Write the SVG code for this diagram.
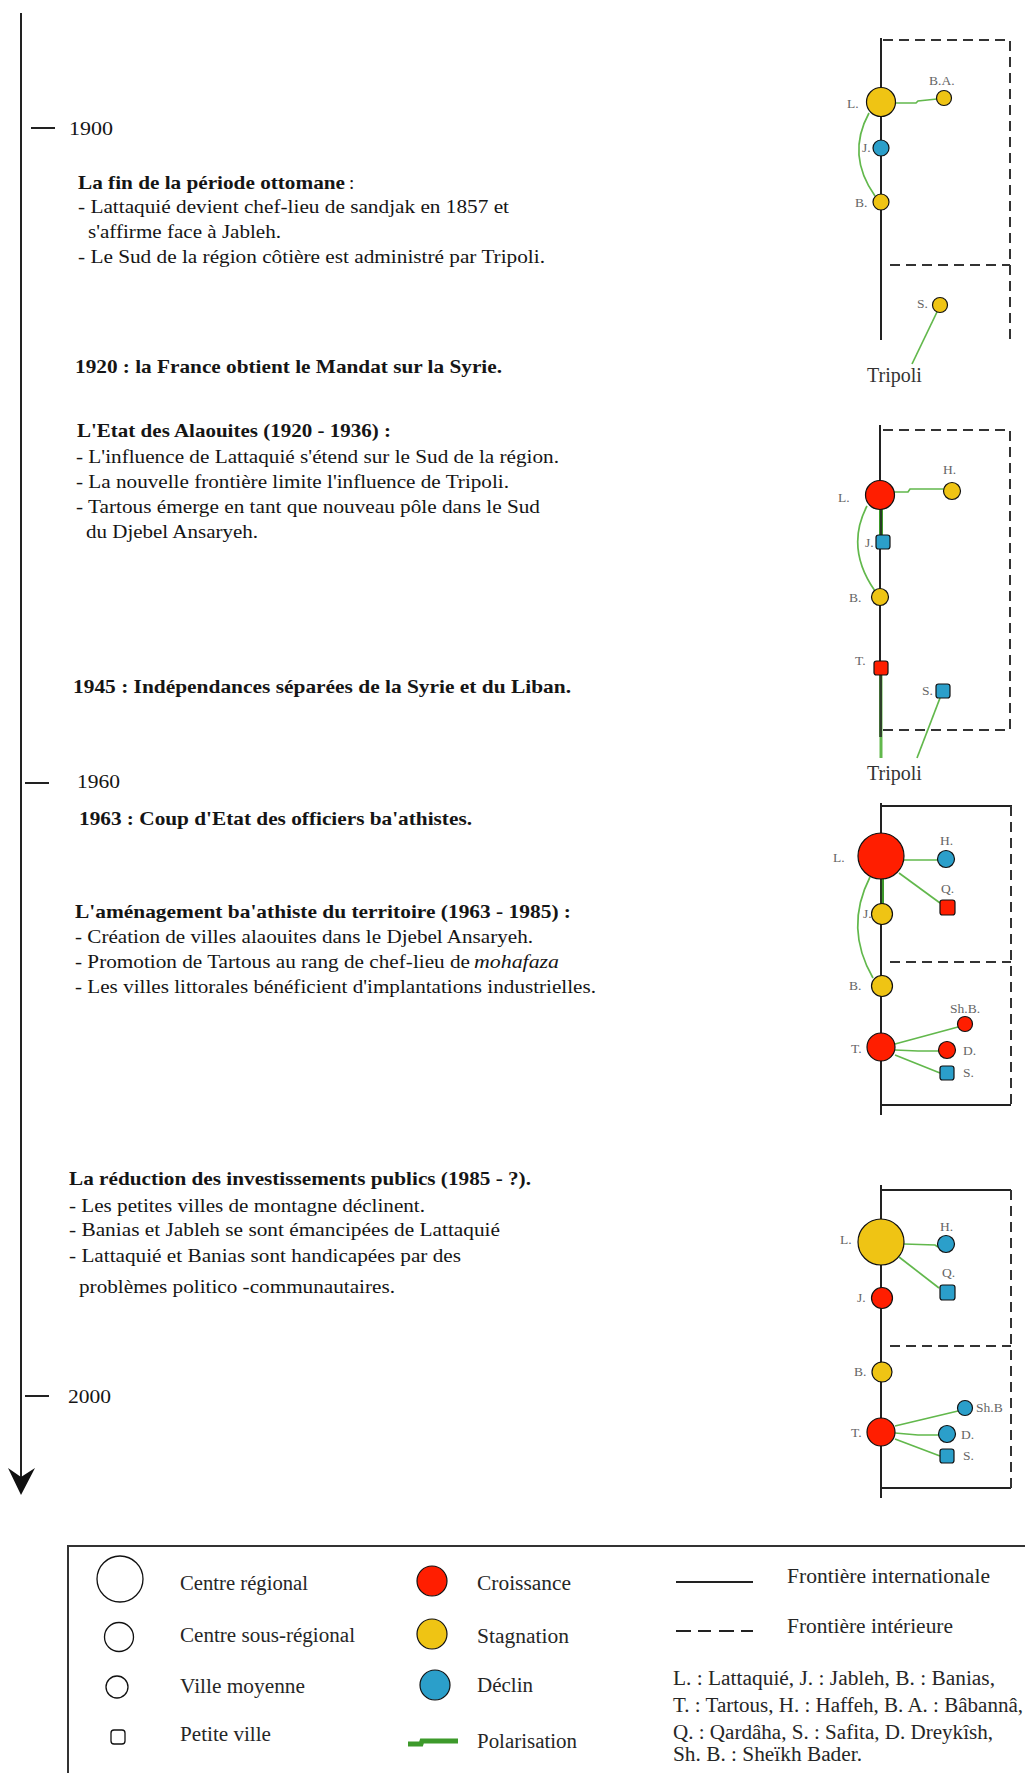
<svg xmlns="http://www.w3.org/2000/svg" width="1025" height="1773" viewBox="0 0 1025 1773">
<style>
.t{font-family:"Liberation Serif","Times New Roman",serif;font-size:19px;fill:#151515}
.b{font-weight:bold}
.i{font-style:italic}
.lg{font-family:"Liberation Serif","Times New Roman",serif;font-size:20px;fill:#262626}
.lab{font-family:"Liberation Serif","Times New Roman",serif;font-size:13.5px;fill:#666}
.trip{font-family:"Liberation Serif","Times New Roman",serif;font-size:20px;fill:#333}
.axis{stroke:#222;stroke-width:2;fill:none}
.intl{stroke:#222;stroke-width:2;fill:none}
.dash{stroke:#333;stroke-width:2;stroke-dasharray:10 6;fill:none}
.pol{stroke:#62b84c;stroke-width:1.7;fill:none}
.polk{stroke:#3d9a2b;stroke-width:4;fill:none}
.red{fill:#ff1e00;stroke:#111;stroke-width:1.2}
.yel{fill:#efc414;stroke:#111;stroke-width:1.2}
.blu{fill:#2b9fca;stroke:#111;stroke-width:1.2}
.emp{fill:#fff;stroke:#111;stroke-width:1.3}
</style>

<g id="timeline">
<line class="axis" x1="21" y1="13" x2="21" y2="1478"/>
<path d="M8,1468 L21,1477 L35,1468 L21,1495 Z" fill="#111"/>
<line class="axis" x1="31" y1="128" x2="55" y2="128"/>
<line class="axis" x1="25" y1="783" x2="49" y2="783"/>
<line class="axis" x1="25" y1="1396" x2="49" y2="1396"/>
<text class="t" x="69" y="135" textLength="44" lengthAdjust="spacingAndGlyphs">1900</text>
<text class="t" x="77" y="788" textLength="43" lengthAdjust="spacingAndGlyphs">1960</text>
<text class="t" x="68" y="1403" textLength="43" lengthAdjust="spacingAndGlyphs">2000</text>
</g>

<g id="texts">
<text class="t b" x="78" y="189" textLength="267" lengthAdjust="spacingAndGlyphs">La fin de la période ottomane</text>
<text class="t" x="349" y="189">:</text>
<text class="t" x="78" y="213" textLength="431" lengthAdjust="spacingAndGlyphs">- Lattaquié devient chef-lieu de sandjak en 1857 et</text>
<text class="t" x="88" y="238" textLength="193" lengthAdjust="spacingAndGlyphs">s'affirme face à Jableh.</text>
<text class="t" x="78" y="263" textLength="467" lengthAdjust="spacingAndGlyphs">- Le Sud de la région côtière est administré par Tripoli.</text>

<text class="t b" x="75" y="373" textLength="427" lengthAdjust="spacingAndGlyphs">1920 : la France obtient le Mandat sur la Syrie.</text>

<text class="t b" x="77" y="437" textLength="314" lengthAdjust="spacingAndGlyphs">L'Etat des Alaouites (1920 - 1936) :</text>
<text class="t" x="76" y="463" textLength="483" lengthAdjust="spacingAndGlyphs">- L'influence de Lattaquié s'étend sur le Sud de la région.</text>
<text class="t" x="76" y="488" textLength="433" lengthAdjust="spacingAndGlyphs">- La nouvelle frontière limite l'influence de Tripoli.</text>
<text class="t" x="76" y="513" textLength="464" lengthAdjust="spacingAndGlyphs">- Tartous émerge en tant que nouveau pôle dans le Sud</text>
<text class="t" x="86" y="538" textLength="172" lengthAdjust="spacingAndGlyphs">du Djebel Ansaryeh.</text>

<text class="t b" x="73" y="693" textLength="498" lengthAdjust="spacingAndGlyphs">1945 : Indépendances séparées de la Syrie et du Liban.</text>

<text class="t b" x="79" y="825" textLength="393" lengthAdjust="spacingAndGlyphs">1963 : Coup d'Etat des officiers ba'athistes.</text>

<text class="t b" x="75" y="918" textLength="496" lengthAdjust="spacingAndGlyphs">L'aménagement  ba'athiste du territoire (1963 - 1985) :</text>
<text class="t" x="75" y="943" textLength="458" lengthAdjust="spacingAndGlyphs">- Création de villes alaouites dans le Djebel Ansaryeh.</text>
<text class="t" x="75" y="968" textLength="395" lengthAdjust="spacingAndGlyphs">- Promotion de Tartous au rang de chef-lieu de</text>
<text class="t i" x="474" y="968" textLength="85" lengthAdjust="spacingAndGlyphs">mohafaza</text>
<text class="t" x="75" y="993" textLength="521" lengthAdjust="spacingAndGlyphs">- Les villes littorales bénéficient d'implantations industrielles.</text>

<text class="t b" x="69" y="1185" textLength="462" lengthAdjust="spacingAndGlyphs">La réduction des investissements publics (1985 - ?).</text>
<text class="t" x="69" y="1212" textLength="356" lengthAdjust="spacingAndGlyphs">- Les petites villes de montagne déclinent.</text>
<text class="t" x="69" y="1236" textLength="431" lengthAdjust="spacingAndGlyphs">- Banias et Jableh se sont émancipées de Lattaquié</text>
<text class="t" x="69" y="1262" textLength="392" lengthAdjust="spacingAndGlyphs">- Lattaquié et Banias sont handicapées par des</text>
<text class="t" x="79" y="1293" textLength="316" lengthAdjust="spacingAndGlyphs">problèmes politico -communautaires.</text>
</g>

<g id="borders">
<line class="axis" x1="881" y1="38" x2="881" y2="340"/>
<path class="dash" d="M883,40 H1010 V340 M890,265 H1010"/>
<line class="axis" x1="880" y1="425" x2="880" y2="737"/>
<path class="dash" d="M883,430 H1010 V730 H883"/>
<line class="axis" x1="881" y1="803" x2="881" y2="1115"/>
<path class="intl" d="M881,806 H1012 M881,1105 H1011"/>
<path class="dash" d="M1011,806 V1105 M890,962 H1011"/>
<line class="axis" x1="881" y1="1185" x2="881" y2="1498"/>
<path class="intl" d="M881,1190 H1011 M881,1488 H1011"/>
<path class="dash" d="M1011,1190 V1488 M890,1346 H1011"/>
</g>

<g id="connectors">
<path class="pol" d="M895,103 L916,103 L918,101 L937,99"/>
<path class="pol" d="M869,113 Q846,155 875,196"/>
<path class="pol" d="M937,312 L912,364"/>

<path class="polk" d="M881,509 V536"/>
<path class="pol" d="M881,675 V758" style="stroke-width:3"/>
<path class="pol" d="M894,492 L908,492 L910,489 L944,489"/>
<path class="pol" d="M867,506 Q845,548 875,591"/>
<path class="pol" d="M940,698 L917,758"/>

<path class="polk" d="M882,878 V905"/>
<path class="pol" d="M904,860 H938"/>
<path class="pol" d="M899,873 L940,903"/>
<path class="pol" d="M870,877 Q844,928 873,978"/>
<path class="pol" d="M895,1044 L958,1027"/>
<path class="pol" d="M895,1050 L918,1051 L939,1051"/>
<path class="pol" d="M895,1055 L940,1073"/>

<path class="pol" d="M904,1244 L935,1245 L938,1247"/>
<path class="pol" d="M899,1257 L939,1288"/>
<path class="pol" d="M895,1426 L958,1411"/>
<path class="pol" d="M895,1433 L918,1435 L939,1435"/>
<path class="pol" d="M895,1439 L940,1456"/>
</g>
<g id="axis-overlay">
<line class="axis" x1="881" y1="509" x2="881" y2="536" style="stroke-width:1.6"/>
<line class="axis" x1="881" y1="675" x2="881" y2="737" style="stroke-width:1.6"/>
<line class="axis" x1="881" y1="878" x2="881" y2="905" style="stroke-width:1.6"/>
</g>

<g id="d1-L"><circle class="yel" cx="881" cy="102" r="14.5"/><text class="lab" x="847" y="108">L.</text></g>
<g id="d1-BA"><circle class="yel" cx="944" cy="98" r="7.5"/><text class="lab" x="929" y="85">B.A.</text></g>
<g id="d1-J"><circle class="blu" cx="881" cy="148" r="8"/><text class="lab" x="862" y="152">J.</text></g>
<g id="d1-B"><circle class="yel" cx="881" cy="202" r="8"/><text class="lab" x="855" y="207">B.</text></g>
<g id="d1-S"><circle class="yel" cx="940" cy="305" r="7.5"/><text class="lab" x="917" y="308">S.</text></g>
<g id="d1-Tripoli"><text class="trip" x="867" y="382">Tripoli</text></g>

<g id="d2-L"><circle class="red" cx="880" cy="495" r="14.5"/><text class="lab" x="838" y="502">L.</text></g>
<g id="d2-H"><circle class="yel" cx="952" cy="491" r="8.5"/><text class="lab" x="943" y="474">H.</text></g>
<g id="d2-J"><rect class="blu" x="876" y="535" width="14" height="14" rx="2.5"/><text class="lab" x="865" y="547">J.</text></g>
<g id="d2-B"><circle class="yel" cx="880" cy="597" r="8.5"/><text class="lab" x="849" y="602">B.</text></g>
<g id="d2-T"><rect class="red" x="874" y="661" width="14" height="14" rx="2.5"/><text class="lab" x="855" y="665">T.</text></g>
<g id="d2-S"><rect class="blu" x="936" y="684" width="14" height="14" rx="2.5"/><text class="lab" x="922" y="695">S.</text></g>
<g id="d2-Tripoli"><text class="trip" x="867" y="780">Tripoli</text></g>

<g id="d3-L"><circle class="red" cx="881" cy="856" r="23"/><text class="lab" x="833" y="862">L.</text></g>
<g id="d3-H"><circle class="blu" cx="946" cy="859" r="8.5"/><text class="lab" x="940" y="845">H.</text></g>
<g id="d3-Q"><rect class="red" x="940" y="900" width="15" height="15" rx="2.5"/><text class="lab" x="941" y="893">Q.</text></g>
<g id="d3-J"><text class="lab" x="863" y="918">J.</text><circle class="yel" cx="882" cy="914" r="10.5"/></g>
<g id="d3-B"><circle class="yel" cx="882" cy="986" r="10.5"/><text class="lab" x="849" y="990">B.</text></g>
<g id="d3-T"><circle class="red" cx="881" cy="1047" r="14"/><text class="lab" x="851" y="1053">T.</text></g>
<g id="d3-ShB"><circle class="red" cx="965" cy="1024" r="7.5"/><text class="lab" x="950" y="1013">Sh.B.</text></g>
<g id="d3-D"><circle class="red" cx="947" cy="1050" r="8.5"/><text class="lab" x="963" y="1055">D.</text></g>
<g id="d3-S"><rect class="blu" x="940" y="1066" width="14" height="14" rx="2.5"/><text class="lab" x="963" y="1077">S.</text></g>

<g id="d4-L"><circle class="yel" cx="881" cy="1242" r="23"/><text class="lab" x="840" y="1244">L.</text></g>
<g id="d4-H"><circle class="blu" cx="946" cy="1244" r="8.5"/><text class="lab" x="940" y="1231">H.</text></g>
<g id="d4-Q"><rect class="blu" x="940" y="1285" width="15" height="15" rx="2.5"/><text class="lab" x="942" y="1277">Q.</text></g>
<g id="d4-J"><circle class="red" cx="882" cy="1298" r="10.5"/><text class="lab" x="857" y="1302">J.</text></g>
<g id="d4-B"><circle class="yel" cx="882" cy="1372" r="10"/><text class="lab" x="854" y="1376">B.</text></g>
<g id="d4-T"><circle class="red" cx="881" cy="1432" r="14"/><text class="lab" x="851" y="1437">T.</text></g>
<g id="d4-ShB"><circle class="blu" cx="965" cy="1408" r="7.5"/><text class="lab" x="976" y="1412">Sh.B</text></g>
<g id="d4-D"><circle class="blu" cx="947" cy="1434" r="8.5"/><text class="lab" x="961" y="1439">D.</text></g>
<g id="d4-S"><rect class="blu" x="940" y="1449" width="14" height="14" rx="2.5"/><text class="lab" x="963" y="1460">S.</text></g>

<g id="legend">
<path d="M68,1773 V1546 H1025" stroke="#333" stroke-width="2" fill="none"/>
<circle class="emp" cx="120" cy="1579" r="23"/>
<circle class="emp" cx="119" cy="1637" r="14.5"/>
<circle class="emp" cx="117" cy="1687" r="11"/>
<rect class="emp" x="111" y="1730" width="14" height="14" rx="3"/>
<text class="lg" x="180" y="1590" textLength="128" lengthAdjust="spacingAndGlyphs">Centre régional</text>
<text class="lg" x="180" y="1642" textLength="175" lengthAdjust="spacingAndGlyphs">Centre sous-régional</text>
<text class="lg" x="180" y="1693" textLength="125" lengthAdjust="spacingAndGlyphs">Ville moyenne</text>
<text class="lg" x="180" y="1741" textLength="91" lengthAdjust="spacingAndGlyphs">Petite ville</text>
<circle class="red" cx="432" cy="1581" r="15"/>
<circle class="yel" cx="432" cy="1634" r="15"/>
<circle class="blu" cx="435" cy="1685" r="15"/>
<path d="M408,1744 H421 L422,1741 H458" stroke="#3d9a2b" stroke-width="5" fill="none"/>
<text class="lg" x="477" y="1590" textLength="94" lengthAdjust="spacingAndGlyphs">Croissance</text>
<text class="lg" x="477" y="1643" textLength="92" lengthAdjust="spacingAndGlyphs">Stagnation</text>
<text class="lg" x="477" y="1692" textLength="56" lengthAdjust="spacingAndGlyphs">Déclin</text>
<text class="lg" x="477" y="1748" textLength="100" lengthAdjust="spacingAndGlyphs">Polarisation</text>
<line x1="676" y1="1582" x2="753" y2="1582" stroke="#222" stroke-width="2"/>
<line x1="676" y1="1631" x2="753" y2="1631" stroke="#222" stroke-width="2" stroke-dasharray="15 7 13 8"/>
<text class="lg" x="787" y="1583" textLength="203" lengthAdjust="spacingAndGlyphs">Frontière internationale</text>
<text class="lg" x="787" y="1633" textLength="166" lengthAdjust="spacingAndGlyphs">Frontière intérieure</text>
<text class="lg" x="673" y="1685" textLength="322" lengthAdjust="spacingAndGlyphs">L. : Lattaquié, J. : Jableh, B. : Banias,</text>
<text class="lg" x="673" y="1712" textLength="350" lengthAdjust="spacingAndGlyphs">T. : Tartous, H. : Haffeh, B. A. : Bâbannâ,</text>
<text class="lg" x="673" y="1739" textLength="320" lengthAdjust="spacingAndGlyphs">Q. : Qardâha, S. : Safita, D. Dreykîsh,</text>
<text class="lg" x="673" y="1761" textLength="189" lengthAdjust="spacingAndGlyphs">Sh. B. : Sheïkh Bader.</text>
</g>
</svg>
